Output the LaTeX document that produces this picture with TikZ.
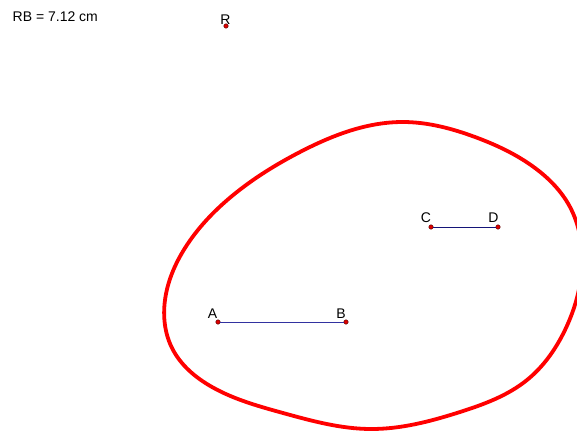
\documentclass[tikz,border=0pt]{standalone}
\usepackage{fontspec}
\setmainfont{Liberation Sans}
\usetikzlibrary{hobby}
\definecolor{curvered}{RGB}{255,0,0}
\definecolor{segblue}{RGB}{50,50,160}
\definecolor{segnavy}{RGB}{20,20,120}
\definecolor{ptred}{RGB}{220,0,0}
\tikzset{
  pt/.style={circle,fill=ptred,draw=black!70!red,line width=0.4pt,inner sep=0pt,minimum size=4.5pt},
  lbl/.style={font=\fontsize{14}{16}\selectfont,inner sep=0pt},
  seg/.style={line width=1pt}
}
\begin{document}
\begin{tikzpicture}[x=1pt,y=-1pt]
\useasboundingbox (0,0) rectangle (577,433);
\clip (0,0) rectangle (577,433);
\fill[white] (0,0) rectangle (577,433);
\node[font=\fontsize{14}{16}\selectfont,anchor=base west,inner sep=0pt] (rb) at (12.5,22) {RB = 7.12 cm};
\draw[curvered,line width=3.8pt,closed hobby] plot coordinates {
  (403,122) (475,137) (535,168) (570,207) (582,255)
  (565,330) (527,380) (460,412) (370,429) (283,413) (212,387)
  (172,348) (165,300) (185,248) (232,196) (300,152)};
\node[pt] (A) at (218,322) {};
\node[pt] (B) at (346,322) {};
\node[pt] (C) at (431,227) {};
\node[pt] (D) at (498,227) {};
\node[pt] (R) at (226,26) {};
\draw[seg,segblue] (A) -- (B);
\draw[seg,segnavy] (C) -- (D);
\node[lbl] (lA) at (212.5,314) {A};
\node[lbl] (lB) at (341,314) {B};
\node[lbl] (lC) at (426,218) {C};
\node[lbl] (lD) at (493.5,218) {D};
\node[lbl] (lR) at (225.5,20) {R};
\end{tikzpicture}
\end{document}
